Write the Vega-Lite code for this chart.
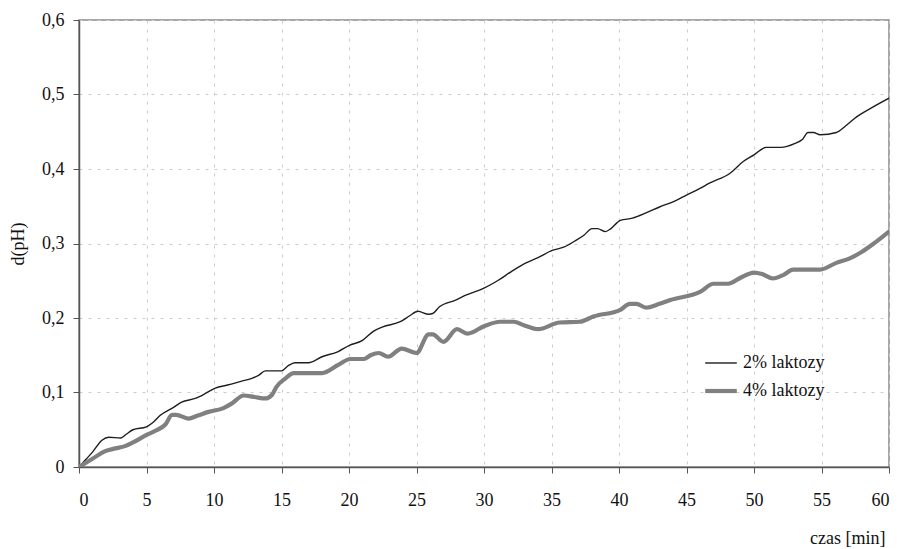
{
  "$schema": "https://vega.github.io/schema/vega-lite/v6.json",
  "width": 810,
  "height": 447,
  "autosize": "none",
  "padding": {"left": 79, "top": 20, "right": 12, "bottom": 82},
  "background": "#ffffff",
  "config": {
    "font": "Times New Roman",
    "view": {"stroke": "#8a8a8a", "strokeWidth": 1.5},
    "axis": {
      "labelFont": "Times New Roman",
      "titleFont": "Times New Roman",
      "labelFontSize": 18,
      "titleFontSize": 18,
      "labelColor": "#111111",
      "titleColor": "#111111",
      "titleFontWeight": "normal",
      "domainColor": "#555555",
      "domainWidth": 1.5,
      "tickColor": "#555555",
      "tickSize": 6,
      "gridColor": "#cccccc",
      "gridDash": [3, 6],
      "gridWidth": 1
    },
    "legend": {"labelFont": "Times New Roman"}
  },
  "datasets": {
    "pomiary": [
      {"t": 0, "v": 0, "s": "2% laktozy"},
      {"t": 0.5, "v": 0.01, "s": "2% laktozy"},
      {"t": 1, "v": 0.02, "s": "2% laktozy"},
      {"t": 1.7, "v": 0.036, "s": "2% laktozy"},
      {"t": 2.2, "v": 0.04, "s": "2% laktozy"},
      {"t": 3.1, "v": 0.039, "s": "2% laktozy"},
      {"t": 3.5, "v": 0.044, "s": "2% laktozy"},
      {"t": 4, "v": 0.05, "s": "2% laktozy"},
      {"t": 5, "v": 0.054, "s": "2% laktozy"},
      {"t": 5.5, "v": 0.06, "s": "2% laktozy"},
      {"t": 6, "v": 0.069, "s": "2% laktozy"},
      {"t": 7, "v": 0.08, "s": "2% laktozy"},
      {"t": 7.6, "v": 0.087, "s": "2% laktozy"},
      {"t": 8.6, "v": 0.092, "s": "2% laktozy"},
      {"t": 9.3, "v": 0.098, "s": "2% laktozy"},
      {"t": 10.1, "v": 0.106, "s": "2% laktozy"},
      {"t": 11, "v": 0.11, "s": "2% laktozy"},
      {"t": 12, "v": 0.115, "s": "2% laktozy"},
      {"t": 12.8, "v": 0.119, "s": "2% laktozy"},
      {"t": 13.3, "v": 0.123, "s": "2% laktozy"},
      {"t": 13.8, "v": 0.129, "s": "2% laktozy"},
      {"t": 15, "v": 0.129, "s": "2% laktozy"},
      {"t": 15.5, "v": 0.136, "s": "2% laktozy"},
      {"t": 16, "v": 0.14, "s": "2% laktozy"},
      {"t": 17, "v": 0.14, "s": "2% laktozy"},
      {"t": 18, "v": 0.148, "s": "2% laktozy"},
      {"t": 19.2, "v": 0.155, "s": "2% laktozy"},
      {"t": 20, "v": 0.163, "s": "2% laktozy"},
      {"t": 21, "v": 0.17, "s": "2% laktozy"},
      {"t": 21.8, "v": 0.182, "s": "2% laktozy"},
      {"t": 22.5, "v": 0.188, "s": "2% laktozy"},
      {"t": 23.8, "v": 0.195, "s": "2% laktozy"},
      {"t": 24.5, "v": 0.203, "s": "2% laktozy"},
      {"t": 25.1, "v": 0.209, "s": "2% laktozy"},
      {"t": 25.9, "v": 0.205, "s": "2% laktozy"},
      {"t": 26.2, "v": 0.206, "s": "2% laktozy"},
      {"t": 26.7, "v": 0.215, "s": "2% laktozy"},
      {"t": 27.9, "v": 0.224, "s": "2% laktozy"},
      {"t": 28.7, "v": 0.231, "s": "2% laktozy"},
      {"t": 30, "v": 0.24, "s": "2% laktozy"},
      {"t": 31, "v": 0.25, "s": "2% laktozy"},
      {"t": 32, "v": 0.262, "s": "2% laktozy"},
      {"t": 33, "v": 0.273, "s": "2% laktozy"},
      {"t": 34, "v": 0.281, "s": "2% laktozy"},
      {"t": 35.1, "v": 0.291, "s": "2% laktozy"},
      {"t": 35.9, "v": 0.295, "s": "2% laktozy"},
      {"t": 36.7, "v": 0.303, "s": "2% laktozy"},
      {"t": 37.4, "v": 0.311, "s": "2% laktozy"},
      {"t": 38, "v": 0.32, "s": "2% laktozy"},
      {"t": 38.4, "v": 0.32, "s": "2% laktozy"},
      {"t": 39, "v": 0.316, "s": "2% laktozy"},
      {"t": 39.4, "v": 0.32, "s": "2% laktozy"},
      {"t": 40.1, "v": 0.331, "s": "2% laktozy"},
      {"t": 41, "v": 0.334, "s": "2% laktozy"},
      {"t": 42, "v": 0.341, "s": "2% laktozy"},
      {"t": 43, "v": 0.349, "s": "2% laktozy"},
      {"t": 44, "v": 0.356, "s": "2% laktozy"},
      {"t": 45, "v": 0.365, "s": "2% laktozy"},
      {"t": 46, "v": 0.374, "s": "2% laktozy"},
      {"t": 46.7, "v": 0.381, "s": "2% laktozy"},
      {"t": 48.2, "v": 0.394, "s": "2% laktozy"},
      {"t": 49.2, "v": 0.41, "s": "2% laktozy"},
      {"t": 50, "v": 0.419, "s": "2% laktozy"},
      {"t": 50.9, "v": 0.429, "s": "2% laktozy"},
      {"t": 52, "v": 0.429, "s": "2% laktozy"},
      {"t": 53, "v": 0.434, "s": "2% laktozy"},
      {"t": 53.6, "v": 0.44, "s": "2% laktozy"},
      {"t": 54, "v": 0.449, "s": "2% laktozy"},
      {"t": 54.4, "v": 0.449, "s": "2% laktozy"},
      {"t": 54.9, "v": 0.446, "s": "2% laktozy"},
      {"t": 56.1, "v": 0.449, "s": "2% laktozy"},
      {"t": 56.8, "v": 0.458, "s": "2% laktozy"},
      {"t": 57.6, "v": 0.47, "s": "2% laktozy"},
      {"t": 58.8, "v": 0.483, "s": "2% laktozy"},
      {"t": 60, "v": 0.495, "s": "2% laktozy"},

      {"t": 0, "v": 0, "s": "4% laktozy"},
      {"t": 1, "v": 0.011, "s": "4% laktozy"},
      {"t": 1.9, "v": 0.021, "s": "4% laktozy"},
      {"t": 2.7, "v": 0.025, "s": "4% laktozy"},
      {"t": 3.4, "v": 0.028, "s": "4% laktozy"},
      {"t": 4, "v": 0.033, "s": "4% laktozy"},
      {"t": 5, "v": 0.043, "s": "4% laktozy"},
      {"t": 5.7, "v": 0.049, "s": "4% laktozy"},
      {"t": 6.4, "v": 0.057, "s": "4% laktozy"},
      {"t": 6.9, "v": 0.07, "s": "4% laktozy"},
      {"t": 7.2, "v": 0.07, "s": "4% laktozy"},
      {"t": 8.1, "v": 0.065, "s": "4% laktozy"},
      {"t": 8.8, "v": 0.069, "s": "4% laktozy"},
      {"t": 9.6, "v": 0.074, "s": "4% laktozy"},
      {"t": 10.7, "v": 0.079, "s": "4% laktozy"},
      {"t": 11.3, "v": 0.085, "s": "4% laktozy"},
      {"t": 12.2, "v": 0.096, "s": "4% laktozy"},
      {"t": 13, "v": 0.094, "s": "4% laktozy"},
      {"t": 13.8, "v": 0.092, "s": "4% laktozy"},
      {"t": 14.3, "v": 0.097, "s": "4% laktozy"},
      {"t": 14.6, "v": 0.107, "s": "4% laktozy"},
      {"t": 15.3, "v": 0.119, "s": "4% laktozy"},
      {"t": 15.9, "v": 0.126, "s": "4% laktozy"},
      {"t": 18, "v": 0.126, "s": "4% laktozy"},
      {"t": 19.2, "v": 0.137, "s": "4% laktozy"},
      {"t": 20.1, "v": 0.145, "s": "4% laktozy"},
      {"t": 21.1, "v": 0.145, "s": "4% laktozy"},
      {"t": 21.6, "v": 0.15, "s": "4% laktozy"},
      {"t": 22.2, "v": 0.153, "s": "4% laktozy"},
      {"t": 22.9, "v": 0.148, "s": "4% laktozy"},
      {"t": 23.9, "v": 0.159, "s": "4% laktozy"},
      {"t": 25, "v": 0.153, "s": "4% laktozy"},
      {"t": 25.9, "v": 0.178, "s": "4% laktozy"},
      {"t": 26.2, "v": 0.178, "s": "4% laktozy"},
      {"t": 27, "v": 0.168, "s": "4% laktozy"},
      {"t": 28, "v": 0.185, "s": "4% laktozy"},
      {"t": 28.8, "v": 0.179, "s": "4% laktozy"},
      {"t": 30, "v": 0.189, "s": "4% laktozy"},
      {"t": 31.2, "v": 0.195, "s": "4% laktozy"},
      {"t": 32.2, "v": 0.195, "s": "4% laktozy"},
      {"t": 33, "v": 0.19, "s": "4% laktozy"},
      {"t": 34, "v": 0.185, "s": "4% laktozy"},
      {"t": 35.6, "v": 0.194, "s": "4% laktozy"},
      {"t": 37.1, "v": 0.195, "s": "4% laktozy"},
      {"t": 38.1, "v": 0.202, "s": "4% laktozy"},
      {"t": 40.1, "v": 0.211, "s": "4% laktozy"},
      {"t": 40.8, "v": 0.219, "s": "4% laktozy"},
      {"t": 41.3, "v": 0.219, "s": "4% laktozy"},
      {"t": 42, "v": 0.214, "s": "4% laktozy"},
      {"t": 43, "v": 0.219, "s": "4% laktozy"},
      {"t": 43.8, "v": 0.224, "s": "4% laktozy"},
      {"t": 46, "v": 0.235, "s": "4% laktozy"},
      {"t": 47, "v": 0.246, "s": "4% laktozy"},
      {"t": 48.1, "v": 0.246, "s": "4% laktozy"},
      {"t": 49, "v": 0.254, "s": "4% laktozy"},
      {"t": 50, "v": 0.261, "s": "4% laktozy"},
      {"t": 50.6, "v": 0.259, "s": "4% laktozy"},
      {"t": 51.4, "v": 0.253, "s": "4% laktozy"},
      {"t": 52.2, "v": 0.258, "s": "4% laktozy"},
      {"t": 52.9, "v": 0.265, "s": "4% laktozy"},
      {"t": 54.9, "v": 0.265, "s": "4% laktozy"},
      {"t": 56.1, "v": 0.274, "s": "4% laktozy"},
      {"t": 57.1, "v": 0.28, "s": "4% laktozy"},
      {"t": 58, "v": 0.289, "s": "4% laktozy"},
      {"t": 58.8, "v": 0.299, "s": "4% laktozy"},
      {"t": 60, "v": 0.316, "s": "4% laktozy"}
    ]
  },
  "data": {"name": "pomiary"},
  "mark": {"type": "line", "interpolate": "monotone", "strokeCap": "round", "strokeJoin": "round", "clip": true},
  "encoding": {
    "x": {
      "field": "t",
      "type": "quantitative",
      "scale": {"domain": [0, 60], "nice": false},
      "axis": {
        "values": [0, 5, 10, 15, 20, 25, 30, 35, 40, 45, 50, 55, 60],
        "title": "czas [min]",
        "titleAnchor": "end",
        "titleAlign": "right",
        "titleBaseline": "alphabetic",
        "titleY": 76,
        "titleX": 806,
        "labelPadding": 18,
        "grid": true
      }
    },
    "y": {
      "field": "v",
      "type": "quantitative",
      "scale": {"domain": [0, 0.6], "nice": false},
      "axis": {
        "values": [0, 0.1, 0.2, 0.3, 0.4, 0.5, 0.6],
        "labelExpr": "replace(format(datum.value, '.1~f'), '.', ',')",
        "title": "d(pH)",
        "titlePadding": 14,
        "labelPadding": 9,
        "grid": true
      }
    },
    "color": {
      "field": "s",
      "type": "nominal",
      "scale": {"domain": ["2% laktozy", "4% laktozy"], "range": ["#1e1e1e", "#808080"]},
      "legend": {
        "title": null,
        "orient": "none",
        "legendX": 624,
        "legendY": 326,
        "symbolType": "stroke",
        "symbolSize": 1000,
        "labelFont": "Times New Roman",
        "labelFontSize": 18,
        "labelColor": "#111111",
        "labelOffset": 4,
        "rowPadding": 1
      }
    },
    "strokeWidth": {
      "field": "s",
      "type": "nominal",
      "scale": {"domain": ["2% laktozy", "4% laktozy"], "range": [1.4, 4.2]},
      "legend": null
    }
  }
}
